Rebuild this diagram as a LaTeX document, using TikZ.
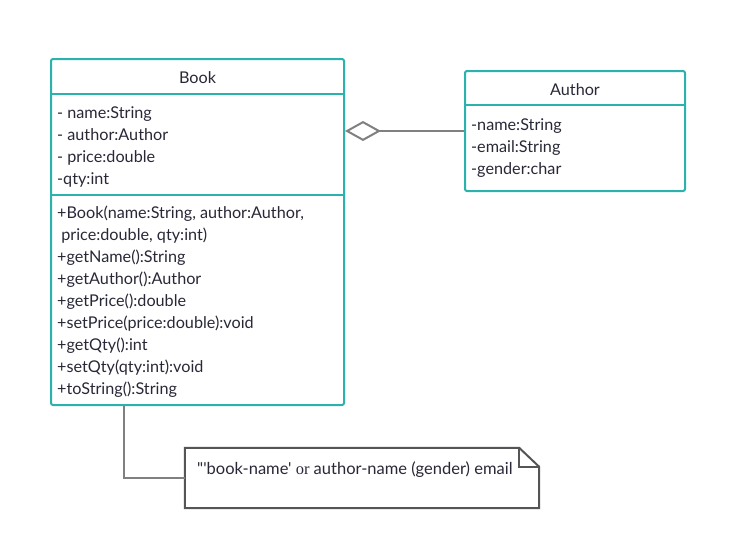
\documentclass[tikz,border=0pt]{standalone}
\usepackage{fontspec}
\setmainfont{Lato}
\newfontfamily\notefont{Lato}
\newfontfamily\orfont{Liberation Serif}
\usetikzlibrary{arrows.meta,calc}
\definecolor{teal1}{RGB}{44,178,172}
\definecolor{txt}{RGB}{40,40,55}
\definecolor{conn}{RGB}{128,128,128}
\definecolor{notec}{RGB}{85,85,85}
\tikzset{
  umlbox/.style={draw=teal1, line width=2pt, rounded corners=2pt, inner sep=0pt},
  sepline/.style={draw=teal1, line width=2pt},
  txtblock/.style={anchor=west, align=left, inner sep=0pt, text=txt, font=\fontsize{16.2}{22}\selectfont},
  title/.style={inner sep=0pt, text=txt, font=\fontsize{16.2}{22}\selectfont},
  connector/.style={draw=conn, line width=2pt},
}
\begin{document}
\begin{tikzpicture}[x=1pt,y=-1pt]
\useasboundingbox (0,0) rectangle (737,546);
% Book
\node[umlbox, minimum width=293pt, minimum height=346pt] (book) at (197.5,232) {};
\draw[sepline] (51,94) -- (344,94);
\draw[sepline] (51,195) -- (344,195);
\node[title] (booktitle) at (197.5,78) {Book};
\node[txtblock] (bookattr) at (57,147) {- name:String\\- author:Author\\- price:double\\-qty:int};
\node[txtblock] (bookmeth) at (57,302) {+Book(name:String, author:Author,\\ \ price:double, qty:int)\\+getName():String\\+getAuthor():Author\\+getPrice():double\\+setPrice(price:double):void\\+getQty():int\\+setQty(qty:int):void\\+toString():String};
% Author
\node[umlbox, minimum width=220pt, minimum height=120pt] (author) at (575,131) {};
\draw[sepline] (465,105) -- (685,105);
\node[title] (authortitle) at (575,90) {Author};
\node[txtblock] (authorattr) at (471,148) {-name:String\\-email:String\\-gender:char};
% aggregation
\draw[connector, -{Diamond[open, length=36pt, width=20pt, line width=2pt]}] (author.west) -- (book.east |- author.west);
% note
\node[inner sep=0pt, minimum width=354pt, minimum height=60pt] (note) at (362,478) {};
\draw[draw=notec, line width=2pt, line join=miter]
  (note.north west) -- ($(note.north east)+(-20,0)$) -- ($(note.north east)+(0,19)$) -- (note.south east) -- (note.south west) -- cycle;
\draw[draw=notec, line width=2pt] ($(note.north east)+(-20,0)$) -- ($(note.north east)+(-20,19)$) -- ($(note.north east)+(0,19)$);
\node[anchor=west, inner sep=0pt, text=txt, font=\notefont\fontsize{16.5}{18}\selectfont] (notetext) at (197,470) {"'book-name' {\orfont or} author-name (gender) email};
\coordinate (bk) at ($(book.south west)+(74,0)$);
\draw[connector] (bk) |- (note.west);
\end{tikzpicture}
\end{document}
